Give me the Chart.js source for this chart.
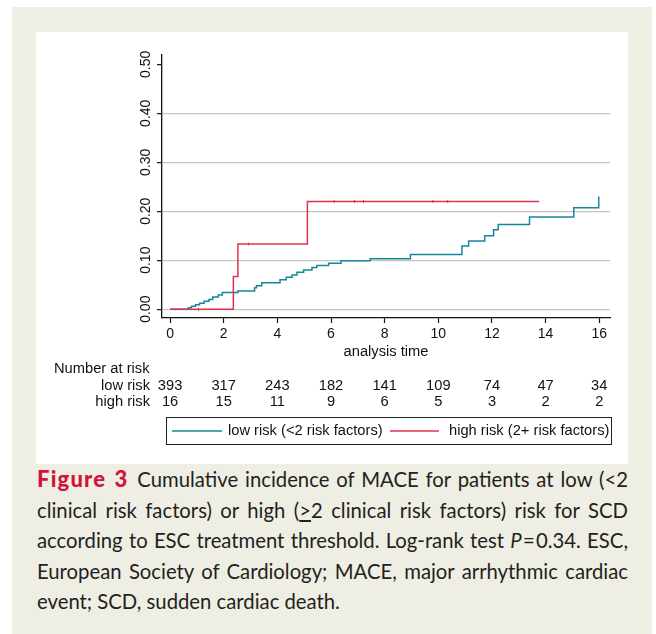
<!DOCTYPE html>
<html>
<head>
<meta charset="utf-8">
<script src="https://cdn.jsdelivr.net/npm/chart.js@4.4.1/dist/chart.umd.min.js"></script>
<style>
  body { margin: 0; background: #fff; width: 656px; height: 634px; position: relative; overflow: hidden; }
  #frame { position: absolute; left: 12px; top: 7px; width: 640px; height: 627px; background: #efeee4; }
  #panel { position: absolute; left: 36px; top: 32px; width: 592px; height: 432px; background: #fff; }
  #caption { position: absolute; left: 37px; top: 464px; width: 591px; font-family: Lato, "Open Sans", sans-serif;
    font-size: 20.3px; line-height: 30.5px; color: #231f20; }
  #caption div { text-align: justify; text-align-last: justify; }
  #caption div.last { text-align: left; text-align-last: left; }
  #caption b { color: #d0143c; font-weight: 900; font-size: 22px; letter-spacing: 1.2px; line-height: 20px; margin-right: 2px; }
</style>
</head>
<body>
<div id="frame"></div>
<div id="panel"><canvas id="km" width="592" height="432"></canvas></div>
<div id="caption">
  <div><b>Figure 3</b> Cumulative incidence of MACE for patients at low (&lt;2</div>
  <div>clinical risk factors) or high (<u>&gt;</u>2 clinical risk factors) risk for SCD</div>
  <div>according to ESC treatment threshold. Log-rank test <i>P</i>&#8202;=&#8202;0.34. ESC,</div>
  <div>European Society of Cardiology; MACE, major arrhythmic cardiac</div>
  <div class="last">event; SCD, sudden cardiac death.</div>
</div>
<script>
const xTicks = [0, 2, 4, 6, 8, 10, 12, 14, 16];
const yTicks = [0, 0.1, 0.2, 0.3, 0.4, 0.5];
const yLabels = ["0.00", "0.10", "0.20", "0.30", "0.40", "0.50"];

// low risk (<2 risk factors)
const lowTimes = [0, 0.68, 0.8, 0.95, 1.1, 1.27, 1.45, 1.59, 1.8, 1.95, 2.53, 3.15, 3.22, 3.42, 4.1, 4.33,
  4.55, 4.73, 4.98, 5.29, 5.47, 5.91, 6.37, 7.46, 8.96, 10.88, 11.13, 11.73, 12.06, 12.23, 13.4, 15.05, 15.98];
const lowCum = [0, 0.003, 0.006, 0.009, 0.012, 0.016, 0.02, 0.025, 0.029, 0.034, 0.037, 0.044, 0.048, 0.054, 0.06, 0.065,
  0.07, 0.0755, 0.08, 0.085, 0.089, 0.094, 0.099, 0.103, 0.1115, 0.129, 0.139, 0.15, 0.162, 0.173, 0.188, 0.207, 0.23];

// high risk (2+ risk factors)
const highTimes = [0, 2.36, 2.53, 5.12, 13.76];
const highCum = [0, 0.0667, 0.1333, 0.22, 0.22];
const highCensor = [1.06, 2.92, 6.12, 6.88, 7.21, 9.8, 10.35];

const lowAtRisk = [393, 317, 243, 182, 141, 109, 74, 47, 34];
const highAtRisk = [16, 15, 11, 9, 6, 5, 3, 2, 2];

const teal = "#16879a";
const red = "#e2304f";
const font = '"Liberation Sans", Arial, sans-serif';

function stepValue(times, vals, t) {
  let v = vals[0];
  for (let i = 0; i < times.length; i++) if (times[i] <= t) v = vals[i];
  return v;
}

const extras = {
  id: "extras",
  afterDraw(chart) {
    const ctx = chart.ctx;
    const xs = chart.scales.x, ys = chart.scales.y;
    ctx.save();
    ctx.fillStyle = "#111";
    ctx.font = "14px " + font;
    // y tick labels, rotated
    yTicks.forEach((v, i) => {
      ctx.save();
      ctx.translate(110, ys.getPixelForValue(v));
      ctx.rotate(-Math.PI / 2);
      ctx.textAlign = "center";
      ctx.textBaseline = "middle";
      ctx.fillText(yLabels[i], 0, 0);
      ctx.restore();
    });
    ctx.font = "14.7px " + font;
    // axis title
    ctx.textAlign = "center";
    ctx.textBaseline = "middle";
    ctx.fillText("analysis time", (chart.chartArea.left + chart.chartArea.right) / 2, 320);
    // number at risk
    ctx.textBaseline = "alphabetic";
    ctx.textAlign = "left";
    ctx.fillText("Number at risk", 18, 341);
    ctx.textAlign = "right";
    ctx.fillText("low risk", 114, 358);
    ctx.fillText("high risk", 114, 374);
    ctx.textAlign = "center";
    xTicks.forEach((t, i) => {
      const px = xs.getPixelForValue(t);
      ctx.fillText(String(lowAtRisk[i]), px, 358);
      ctx.fillText(String(highAtRisk[i]), px, 374);
    });
    // legend
    ctx.strokeStyle = "#222";
    ctx.lineWidth = 1;
    ctx.strokeRect(130.5, 385.5, 445, 27);
    ctx.lineWidth = 1.3;
    ctx.strokeStyle = teal;
    ctx.beginPath(); ctx.moveTo(136, 399); ctx.lineTo(186, 399); ctx.stroke();
    ctx.strokeStyle = red;
    ctx.beginPath(); ctx.moveTo(354, 399); ctx.lineTo(403, 399); ctx.stroke();
    ctx.textAlign = "left";
    ctx.textBaseline = "middle";
    ctx.fillText("low risk (<2 risk factors)", 192, 399);
    ctx.fillText("high risk (2+ risk factors)", 413, 399);
    ctx.restore();
  }
};

new Chart(document.getElementById("km"), {
  type: "line",
  data: {
    datasets: [
      {
        label: "high risk (2+ risk factors)",
        data: highTimes.map((t, i) => ({ x: t, y: highCum[i] })),
        borderColor: red,
        borderWidth: 1.5,
        stepped: "before",
        pointRadius: 0
      },
      {
        label: "high risk censored",
        data: highCensor.map((t) => ({ x: t, y: stepValue(highTimes, highCum, t) })),
        showLine: false,
        pointStyle: "line",
        rotation: 90,
        pointRadius: 1.5,
        borderColor: red,
        pointBorderWidth: 1
      },
      {
        label: "low risk (<2 risk factors)",
        data: lowTimes.map((t, i) => ({ x: t, y: lowCum[i] })),
        borderColor: teal,
        borderWidth: 1.5,
        stepped: "before",
        pointRadius: 0
      }
    ]
  },
  options: {
    responsive: false,
    animation: false,
    layout: { padding: { top: 23, right: 18, left: 0, bottom: 0 } },
    plugins: { legend: { display: false }, tooltip: { enabled: false } },
    scales: {
      x: {
        type: "linear",
        min: -0.3,
        max: 16.4,
        afterBuildTicks: (s) => { s.ticks = xTicks.map((v) => ({ value: v })); },
        afterFit: (s) => { s.height = 146; },
        grid: { drawOnChartArea: false, tickLength: 5, tickColor: "#111", tickWidth: 1.2 },
        border: { color: "#111", width: 1.3 },
        ticks: { color: "#111", font: { family: font, size: 14 }, padding: 3, maxRotation: 0 }
      },
      y: {
        min: -0.018,
        max: 0.519,
        afterBuildTicks: (s) => { s.ticks = yTicks.map((v) => ({ value: v })); },
        afterFit: (s) => { s.width = 126; },
        grid: {
          color: (c) => (c.tick && c.tick.value === 0.5 ? "rgba(0,0,0,0)" : "#c4c4c4"),
          lineWidth: 1.3,
          tickLength: 5,
          tickColor: "#111",
          tickWidth: 1.2
        },
        border: { color: "#111", width: 1.3 },
        ticks: { display: false }
      }
    }
  },
  plugins: [extras]
});
</script>
</body>
</html>
